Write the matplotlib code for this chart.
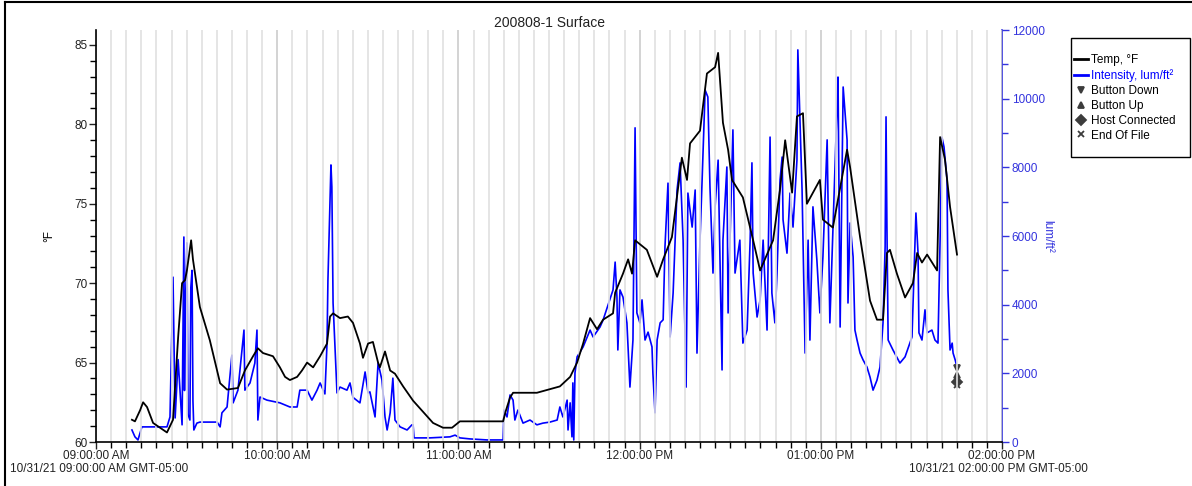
import numpy as np
import matplotlib
matplotlib.use("Agg")
import matplotlib.pyplot as plt
from matplotlib.ticker import MultipleLocator
from matplotlib.lines import Line2D
from matplotlib.patches import Rectangle

plt.rcParams["font.family"] = ["Liberation Sans", "DejaVu Sans"]

# minutes after 09:00:00 AM
temp_min = [11.9, 12.9, 14.6, 15.6, 16.9, 18.9, 21.2, 23.5, 25.5, 27.2, 28.5, 29.5, 30.1,
            31.5, 32.1, 34.4, 37.7, 41.1, 43.4, 47.0, 49.3, 52.0, 53.6, 55.3, 58.6, 60.9,
            62.6, 64.2, 66.6, 68.2, 69.9, 71.9, 74.2, 76.5, 77.5, 78.5, 80.8, 83.4, 85.1,
            87.4, 88.4, 90.1, 91.7, 93.4, 94.0, 95.7, 97.4, 99.0, 101.7, 105.0, 108.3,
            111.6, 114.9, 117.9, 120.5, 123.8, 134.8, 135.6, 137.1, 138.1, 146.0, 153.6,
            157.0, 159.3, 161.3, 163.6, 165.9, 167.9, 171.2, 171.9, 174.5, 176.2, 177.5,
            178.5, 182.4, 185.8, 187.8, 190.7, 194.0, 195.7, 196.7, 200.0, 202.3, 205.0,
            206.0, 207.6, 209.3, 210.6, 214.2, 217.6, 219.9, 224.2, 226.5, 228.2, 230.5,
            232.1, 234.1, 235.4, 239.7, 240.7, 244.0, 248.7, 249.7, 253.0, 256.3, 258.6,
            260.6, 261.9, 262.9, 265.2, 267.9, 270.5, 271.9, 273.5, 275.2, 278.5, 279.5,
            281.1, 282.8, 285.1]
temp_f = [61.4, 61.3, 62.0, 62.5, 62.2, 61.2, 60.9, 60.6, 61.4, 66.6, 70.0, 70.2, 70.8,
          72.7, 71.5, 68.5, 66.4, 63.7, 63.3, 63.4, 64.5, 65.4, 65.9, 65.6, 65.4, 64.7,
          64.1, 63.9, 64.1, 64.5, 65.0, 64.7, 65.4, 66.2, 67.9, 68.1, 67.8, 67.9, 67.5,
          66.2, 65.3, 66.2, 66.3, 65.0, 64.7, 65.7, 64.5, 64.3, 63.5, 62.6, 61.9,
          61.2, 60.9, 60.9, 61.3, 61.3, 61.3, 61.9, 62.8, 63.1, 63.1, 63.5,
          64.1, 65.0, 66.2, 67.8, 67.1, 67.7, 68.1, 69.4, 70.6, 71.5, 70.6,
          72.7, 72.1, 70.4, 71.5, 72.9, 77.9, 76.5, 78.8, 79.6, 83.2, 83.6,
          84.5, 80.1, 78.4, 76.5, 75.4, 72.7, 70.8, 72.7, 75.9, 79.0, 75.7,
          80.5, 80.7, 75.0, 76.5, 74.0, 73.5, 78.4, 77.3, 72.9, 68.9, 67.7,
          67.7, 71.9, 72.1, 70.6, 69.1, 70.0, 71.9, 71.3, 71.8, 70.8, 79.2,
          77.8, 74.8, 71.8]

lux_min = [11.9, 12.9, 13.9, 15.2, 18.9, 23.5, 24.5, 25.5, 26.2, 27.2, 28.5, 29.1, 29.3,
           29.6, 29.8, 30.1, 30.5, 31.1, 31.4, 31.8, 32.1, 32.4, 33.4, 34.4, 40.1, 41.1,
           41.7, 43.4, 45.0, 45.4, 47.0, 49.0, 49.3, 51.0, 52.6, 53.3, 53.6, 54.3, 56.6,
           60.9, 64.2, 66.6, 67.5, 69.9, 71.5, 73.2, 74.2, 75.8, 76.5, 76.8, 77.8, 78.1,
           78.5, 79.8, 80.8, 83.1, 84.1, 85.1, 87.4, 89.1, 90.1, 90.7, 92.4, 93.4, 94.7,
           95.7, 96.4, 97.4, 98.3, 99.0, 100.7, 103.0, 104.6, 105.0, 105.3, 110.6, 117.2,
           118.9, 120.5, 123.8, 129.5, 134.8, 135.1, 136.1, 137.1, 138.1, 138.7, 139.7,
           141.4, 143.7, 146.0, 148.0, 150.3, 152.7, 153.6, 154.6, 156.0, 156.3, 157.0,
           157.6, 157.9, 158.2, 158.6, 159.3, 161.3, 163.6, 164.6, 166.9, 167.9, 171.2,
           171.9, 172.5, 172.8, 173.5, 174.5, 175.8, 176.8, 177.8, 178.5, 179.1, 180.1,
           180.8, 181.8, 182.8, 184.1, 184.4, 185.1, 185.8, 186.8, 187.8, 188.4, 189.4,
           190.1, 191.1, 192.4, 193.4, 194.4, 195.4, 196.0, 197.4, 198.4, 199.0, 200.0,
           200.7, 201.7, 202.6, 203.3, 204.3, 205.0, 206.0, 207.3, 207.6, 208.9, 209.3,
           210.9, 211.6, 213.2, 214.2, 215.6, 216.6, 217.2, 217.6, 218.9, 219.9, 220.9,
           222.2, 223.2, 223.8, 224.8, 225.5, 226.5, 227.2, 227.5, 228.8, 229.8, 230.8,
           232.1, 232.4, 233.8, 234.8, 235.8, 236.4, 237.4, 238.7, 239.7, 240.7, 242.1,
           243.0, 244.0, 245.4, 245.7, 246.4, 247.4, 248.7, 249.0, 249.7, 250.7, 251.3,
           252.0, 253.0, 254.0, 255.3, 256.3, 257.3, 258.6, 259.6, 260.6, 261.3, 261.6,
           261.9, 262.3, 263.9, 266.2, 267.9, 270.2, 271.2, 271.5, 272.2, 272.5, 273.5,
           274.5, 275.2, 276.8, 277.8, 278.8, 279.5, 280.1, 280.8, 281.8, 282.1, 282.8,
           283.5, 283.8, 284.5, 285.1]
lux_val = [350, 150, 60, 440, 440, 440, 730, 4800, 700, 2400, 500, 5970, 1500,
           4000, 4630, 5800, 800, 640, 4500, 5000, 1200, 350, 550, 580, 580, 440,
           850, 1020, 2530, 1140, 1510, 3260, 1510, 1720, 2300, 3260, 640, 1310, 1220,
           1140, 1020, 1020, 1510, 1510, 1220, 1510, 1720, 1400, 2880, 4720, 8070, 7430,
           4050, 1430, 1600, 1510, 1720, 1300, 1140, 2040, 1430, 1460, 730, 2300, 1800,
           730, 350, 850, 1860, 640, 440, 350, 500, 500, 120, 120, 150,
           200, 120, 90, 60, 60, 930, 730, 1370, 1220, 640, 930,
           550, 640, 500, 550, 580, 640, 1020, 730, 1220, 350, 1140,
           150, 1720, 60, 2010, 2480, 2770, 3260, 3060, 3350, 3550, 4430,
           5240, 4220, 2680, 4430, 4220, 3470, 1600, 2970, 9150, 3760, 3470,
           4140, 2970, 3200, 2770, 2010, 850, 2970, 3470, 3560, 5680, 7540,
           3060, 4340, 7340, 8130, 5880, 1600, 7250, 6260, 7340, 2590, 5880,
           7630, 10250, 10050, 7430, 4920, 6850, 8210, 2100, 5880, 8010, 3760,
           9090, 4920, 5880, 2880, 3260, 5880, 8130, 4920, 3640, 4140, 5880,
           3260, 8880, 4340, 3470, 4920, 7630, 8300, 6470, 5500, 7250, 6260,
           8210, 11420, 7340, 2590, 5880, 2970, 6850, 5300, 3760, 5390, 8800,
           3470, 6180, 9880, 10630, 3350, 10340, 8800, 4050, 6380, 5390, 3260,
           2970, 2590, 2390, 2180, 1890, 1510, 1800, 2180, 3470, 5680, 9470,
           6260, 2970, 2680, 2300, 2480, 3060, 5880, 6670, 5500, 3180, 2970,
           3850, 3180, 3260, 2970, 2880, 5880, 8880, 8590, 7630, 4430, 2680,
           2880, 2590, 2390, 2180]

event_names = ["Button Down", "Button Up", "Host Connected", "End Of File"]
event_marks = ["v", "^", "D", "x"]
event_min = [285.1, 285.1, 285.1, 285.1]
event_val = [2150, 1950, 1750, 1660]

hour_labels = ["09:00:00 AM", "10:00:00 AM", "11:00:00 AM", "12:00:00 PM",
               "01:00:00 PM", "02:00:00 PM"]

blue = "#0000ff"
axblue = "#3333dd"
gray = "#3c3c3c"
W, H = 1192, 486

fig = plt.figure(figsize=(W / 100, H / 100), dpi=100)
ax = fig.add_axes([96 / W, 44 / H, 906 / W, 412 / H])
ax2 = ax.twinx()
ax.set_zorder(ax2.get_zorder() + 1)
ax.patch.set_visible(False)

ax2.plot(lux_min, lux_val, color=blue, lw=1.2)
for mk, xm, v in zip(event_marks, event_min, event_val):
    ax2.plot([xm], [v], marker=mk, color=gray, ms=5, mew=1.3, ls="none")
ax.plot(temp_min, temp_f, color="black", lw=1.3)

ax.set_xlim(0, 300)
ax.set_ylim(60, 85.94)
ax2.set_ylim(0, 12000)

ax.set_xticks(np.arange(0, 301, 60), hour_labels)
ax.xaxis.set_minor_locator(MultipleLocator(5))
ax.grid(which="minor", axis="x", color="#e0e0e0", lw=1.2)
ax.grid(which="major", axis="x", color="#cccccc", lw=1.2)
ax.set_axisbelow(True)

ax.yaxis.set_major_locator(MultipleLocator(5))
ax.yaxis.set_minor_locator(MultipleLocator(1))
ax2.yaxis.set_major_locator(MultipleLocator(2000))
ax2.yaxis.set_minor_locator(MultipleLocator(1000))

for s in ["top", "right"]:
    ax.spines[s].set_visible(False)
for s in ["top", "left", "bottom"]:
    ax2.spines[s].set_visible(False)
ax2.spines["right"].set_color(axblue)
ax2.spines["right"].set_linewidth(1.2)
ax.spines["left"].set_linewidth(1.2)
ax.spines["bottom"].set_linewidth(1.2)

ax.tick_params(which="major", length=5, width=1, labelsize=8.5, colors="#222222", pad=1)
ax.tick_params(which="minor", length=4, width=1)
ax2.tick_params(which="major", length=5, width=1, labelsize=8.5, colors=axblue, pad=2)
ax2.tick_params(which="minor", length=4, width=1, colors=axblue)

ax.set_ylabel("°F", fontsize=8.5, labelpad=14)
ax2.set_ylabel("lum/ft²", fontsize=8.5, color=axblue, rotation=-90, labelpad=6)
ax.set_title("200808-1 Surface", fontsize=10, pad=2, color="#222222")

fig.text(10 / W, 1 - 469 / H, "10/31/21 09:00:00 AM GMT-05:00", fontsize=8.5,
         ha="left", va="center", color="#222222")
fig.text(1088 / W, 1 - 469 / H, "10/31/21 02:00:00 PM GMT-05:00", fontsize=8.5,
         ha="right", va="center", color="#222222")

# legend box drawn separately for its tall padding
fig.add_artist(Rectangle((1071 / W, 1 - 157 / H), 119 / W, 119 / H, transform=fig.transFigure,
                         fill=False, edgecolor="black", lw=1.0))
handles = [Line2D([], [], color="black", lw=2), Line2D([], [], color=blue, lw=2)]
labels = ["Temp, °F", "Intensity, lum/ft²"]
for n, mk in zip(event_names, event_marks):
    handles.append(Line2D([], [], marker=mk, color=gray, ls="none", ms=5, mew=1.3))
    labels.append(n)
leg = fig.legend(handles, labels, loc="upper left", bbox_to_anchor=(1074 / W, 1 - 54 / H),
                 fontsize=8.5, frameon=False, handlelength=1.2,
                 handletextpad=0.2, labelspacing=0.25, borderpad=0, borderaxespad=0)
leg.get_texts()[1].set_color(blue)

fig.add_artist(Line2D([5 / W, 5 / W], [0, 1 - 2 / H], color="black", lw=1.5))
fig.add_artist(Line2D([5 / W, 1], [1 - 2 / H, 1 - 2 / H], color="black", lw=1.5))

fig.savefig("out.png", dpi=100)
